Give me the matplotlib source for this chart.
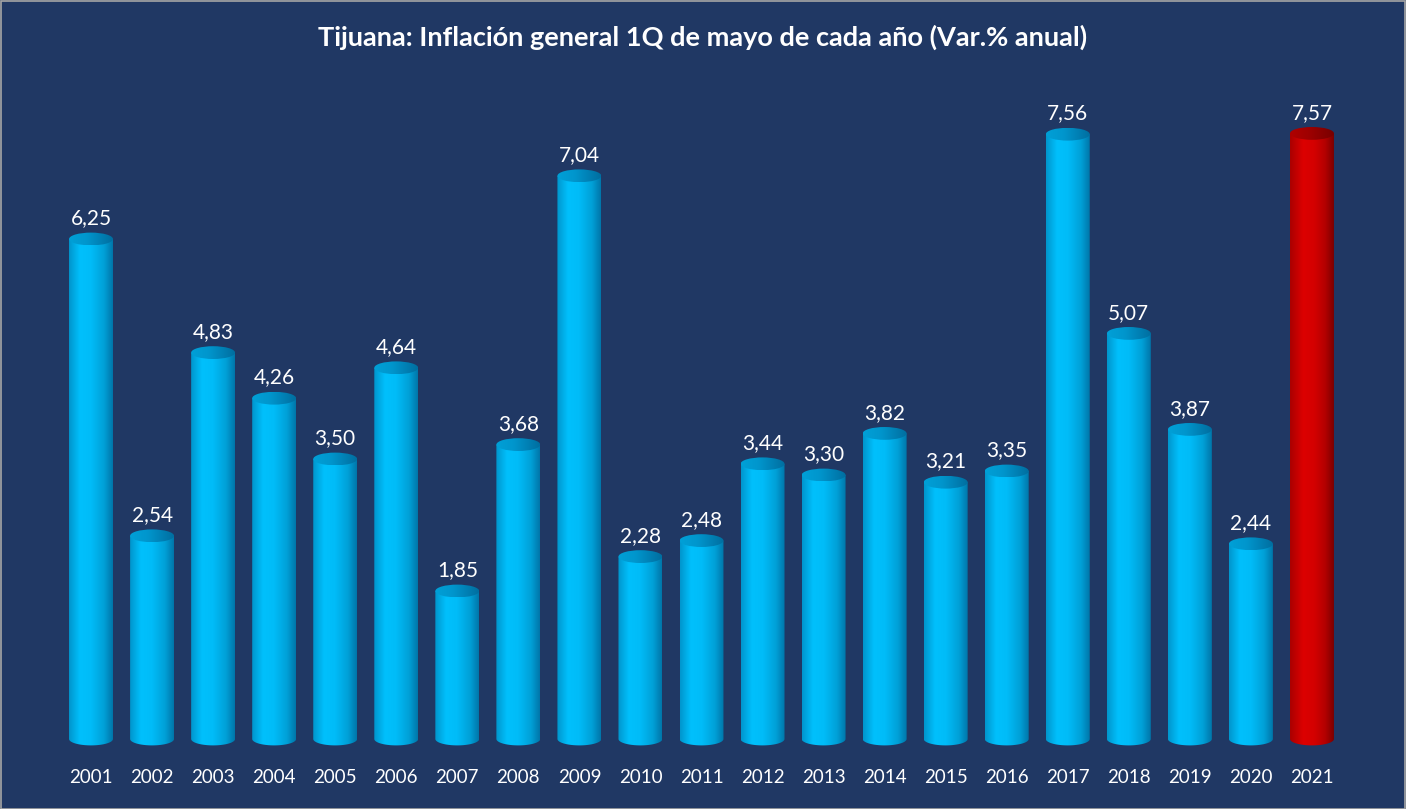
import matplotlib
matplotlib.use("Agg")
import matplotlib.pyplot as plt
import numpy as np
from matplotlib.patches import Ellipse, PathPatch, Rectangle
from matplotlib.path import Path

years = ["2001", "2002", "2003", "2004", "2005", "2006", "2007", "2008", "2009", "2010",
         "2011", "2012", "2013", "2014", "2015", "2016", "2017", "2018", "2019", "2020", "2021"]
values = [6.25, 2.54, 4.83, 4.26, 3.50, 4.64, 1.85, 3.68, 7.04, 2.28,
          2.48, 3.44, 3.30, 3.82, 3.21, 3.35, 7.56, 5.07, 3.87, 2.44, 7.57]
title = "Tijuana: Inflación general 1Q de mayo de cada año (Var.% anual)"

BG = "#203864"
plt.rcParams['font.family'] = ['Lato', 'DejaVu Sans']

W, H = 1406, 809
fig = plt.figure(figsize=(W / 100, H / 100), dpi=100, facecolor=BG)

# axes placement in pixels
x_left_px = 60.5
x_right_px = 1342.5
base_px = 739  # y=0 position from top
ybot, ytop = -0.6, 8.5
ppu = 80.0
ax_bottom_px = base_px - ybot * ppu
ax_h_px = (ytop - ybot) * ppu
ax = fig.add_axes([x_left_px / W, (H - ax_bottom_px) / H, (x_right_px - x_left_px) / W, ax_h_px / H])
ax.set_facecolor(BG)
ax.axis("off")

blue_body = [(0.0, (0, 150, 205)), (0.25, (0, 192, 252)), (0.5, (0, 188, 248)), (0.8, (0, 160, 215)), (1.0, (0, 118, 170))]
blue_top = [(0.0, (0, 160, 215)), (0.4, (0, 150, 205)), (1.0, (0, 110, 160))]
red_body = [(0.0, (170, 0, 0)), (0.3, (220, 0, 0)), (0.55, (212, 0, 0)), (0.8, (180, 0, 0)), (1.0, (125, 0, 0))]
red_top = [(0.0, (175, 0, 0)), (0.4, (160, 0, 0)), (1.0, (120, 0, 0))]


def grad(stops, n=100):
    t = np.linspace(0, 1, n)
    pos = [s[0] for s in stops]
    arr = np.zeros((1, n, 3))
    for c in range(3):
        arr[0, :, c] = np.interp(t, pos, [s[1][c] for s in stops]) / 255.0
    return arr


bw = 0.72
eh = 0.16  # full ellipse height in data units
for i, (y, v) in enumerate(zip(years, values)):
    body_stops, top_stops = (red_body, red_top) if i == len(values) - 1 else (blue_body, blue_top)
    x0, x1 = i - bw / 2, i + bw / 2
    th = np.linspace(np.pi, 2 * np.pi, 40)
    bx = i + bw / 2 * np.cos(th)
    by = 0 + eh / 2 * np.sin(th)
    verts = [(x0, v)] + list(zip(bx, by)) + [(x1, v), (x0, v)]
    codes = [Path.MOVETO] + [Path.LINETO] * (len(verts) - 2) + [Path.CLOSEPOLY]
    clip = PathPatch(Path(verts, codes), transform=ax.transData, facecolor="none", edgecolor="none")
    ax.add_patch(clip)
    im = ax.imshow(grad(body_stops), extent=[x0, x1, -eh, v], aspect="auto", zorder=2, interpolation="bilinear")
    im.set_clip_path(clip)
    el = Ellipse((i, v), bw, eh, transform=ax.transData, facecolor="none", edgecolor="none")
    ax.add_patch(el)
    im2 = ax.imshow(grad(top_stops), extent=[x0, x1, v - eh / 2, v + eh / 2], aspect="auto", zorder=3, interpolation="bilinear")
    im2.set_clip_path(el)
    ax.text(i, v + 0.26, f"{v:.2f}".replace(".", ","), ha="center", va="center", color="white", fontsize=15, zorder=4)
    ax.text(i, -0.48, y, ha="center", va="center", color="white", fontsize=13.5, zorder=4, clip_on=False)

ax.set_xlim(-0.5, len(values) - 0.5)
ax.set_ylim(ybot, ytop)

fig.text(0.5, 1 - 37 / H, title, ha="center", va="center", color="white", fontsize=19.5, fontweight="bold")

fig.patches.append(Rectangle((0.5 / W, 0.5 / H), 1 - 1.5 / W, 1 - 1.5 / H, transform=fig.transFigure,
                             facecolor="none", edgecolor="#A6A6A6", linewidth=1.2))

fig.savefig("out.png", dpi=100, facecolor=BG)
